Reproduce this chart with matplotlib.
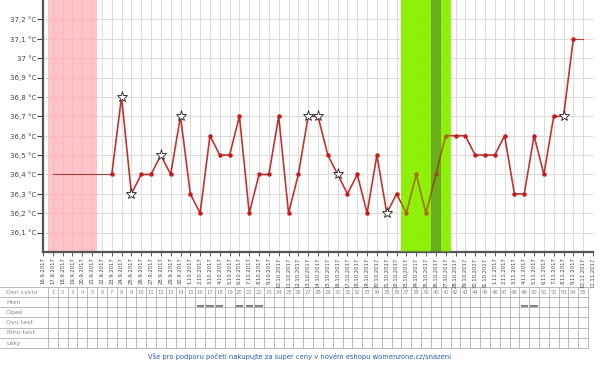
import matplotlib
matplotlib.use("Agg")
import matplotlib.pyplot as plt
import pandas as pd

plt.rcParams['font.family'] = ['DejaVu Sans']

# ---- data ----
dates = [f"{d.day}.{d.month}.{d.year}" for d in pd.date_range("2017-09-16", "2017-11-11")]
temp_days = list(range(7, 55))
temps = [36.4, 36.8, 36.3, 36.4, 36.4, 36.5, 36.4, 36.7, 36.3, 36.2,
         36.6, 36.5, 36.5, 36.7, 36.2, 36.4, 36.4, 36.7, 36.2, 36.4,
         36.7, 36.7, 36.5, 36.4, 36.3, 36.4, 36.2, 36.5, 36.2, 36.3,
         36.2, 36.4, 36.2, 36.4, 36.6, 36.6, 36.6, 36.5, 36.5, 36.5,
         36.6, 36.3, 36.3, 36.6, 36.4, 36.7, 36.7, 37.1]
star_days = [8, 9, 12, 14, 27, 28, 30, 35, 53]
lead_days = [1, 7]          # thin connecting line before first reading
lead_temps = [36.4, 36.4]
tail_days = [54, 55]        # thin connecting line after last reading
tail_temps = [37.1, 37.1]
period_days = [1, 5]
fertile_days = [37, 41]
ovulation_day = 40
ytick_vals = [36.1, 36.2, 36.3, 36.4, 36.5, 36.6, 36.7, 36.8, 36.9, 37.0, 37.1, 37.2]
cycle_days = list(range(1, 56))
row_labels = ["Den cyklu", "Hlen", "Čípek", "Ovu test", "Těhu test", "Léky"]
hlen_days = [16, 17, 18, 20, 21, 22, 49, 50]
footer = "Vše pro podporu početí nakupujte za super ceny v novém eshopu womenzone.cz/snazeni"

W, H = 600, 366
fig = plt.figure(figsize=(W / 100, H / 100), dpi=100)

# ---- table / background axes in pixel coordinates ----
axb = fig.add_axes([0, 0, 1, 1])
axb.set_xlim(0, W)
axb.set_ylim(H, 0)
axb.axis('off')

x0, x1 = 43.0, 593.0
ndays = len(dates) - 1
def px(d):
    return x0 + (x1 - x0) / ndays * d

t_top, row_h = 287.0, 10.15
n_rows = len(row_labels)
t_bot = t_top + n_rows * row_h
tcol = '#b0b0b0'
right_edge = px(cycle_days[-1] + 0.5)
for i in range(n_rows + 1):
    y = t_top + i * row_h
    axb.plot([0, right_edge], [y, y], color=tcol, lw=0.6)
for d in cycle_days + [cycle_days[-1] + 1]:
    xx = px(d - 0.5)
    axb.plot([xx, xx], [t_top, t_bot], color=tcol, lw=0.6)
for i, lab in enumerate(row_labels):
    axb.text(6, t_top + (i + 0.5) * row_h, lab, fontsize=4.5, color='#8a8a8a',
             va='center', ha='left')
for d in cycle_days:
    axb.text(px(d), t_top + 0.5 * row_h, str(d), fontsize=3.8, color='#8a8a8a',
             va='center', ha='center')
for d in hlen_days:
    yy = t_top + 1.85 * row_h
    axb.plot([px(d) - 3.6, px(d) + 3.6], [yy, yy], color='#777777', lw=1.3,
             solid_capstyle='butt')
axb.text(300, 357, footer, fontsize=4.9, color='#2a5db0', ha='center', va='center')

# ---- chart axes ----
ax = fig.add_axes([x0 / W, 1 - 252 / H, (x1 - x0) / W, 252 / H])
ax.set_xlim(0, ndays)
ax.set_ylim(36.0, 37.3)
ax.set_facecolor('none')

for d in range(ndays + 1):
    ax.axvline(d, color='#dcdcdc', lw=0.8, zorder=0)
for v in [36.1 + 0.1 * k for k in range(12)]:
    ax.axhline(v, color='#dcdcdc', lw=0.8, zorder=0)

ax.axvspan(period_days[0] - 0.5, period_days[1] + 0.5, color='#ffb0b8', alpha=0.75,
           lw=0, zorder=1)
ax.axvspan(fertile_days[0] - 0.5, fertile_days[1] + 0.5, color='#8cf000', alpha=0.95,
           lw=0, zorder=1)
ax.axvspan(ovulation_day - 0.5, ovulation_day + 0.5, color='#5ea020', alpha=0.8,
           lw=0, zorder=1)

line_col = '#b40000'
ax.plot(lead_days, lead_temps, color='#a04040', lw=0.8, zorder=2)
ax.plot(tail_days, tail_temps, color='#c04040', lw=0.8, zorder=2)
ax.plot(temp_days, temps, color=line_col, lw=1.2, alpha=0.8, zorder=3)
dot_days = [d for d in temp_days if d not in star_days]
dot_t = [t for d, t in zip(temp_days, temps) if d not in star_days]
ax.plot(dot_days, dot_t, 'o', color='#c81818', ms=3.2, mew=0, zorder=4)
st_t = [t for d, t in zip(temp_days, temps) if d in star_days]
ax.plot(star_days, st_t, '*', mfc='white', mec='#222222', mew=0.6, ms=8, zorder=5)

# translucent overlay tints the line inside the fertile window
ax.axvspan(fertile_days[0] - 0.5, ovulation_day - 0.5, color='#8cf000', alpha=0.35,
           lw=0, zorder=4.5)
ax.axvspan(ovulation_day - 0.5, ovulation_day + 0.5, color='#6aac22', alpha=0.35,
           lw=0, zorder=4.5)
ax.axvspan(ovulation_day + 0.5, fertile_days[1] + 0.5, color='#8cf000', alpha=0.35,
           lw=0, zorder=4.5)

ax.set_yticks(ytick_vals)
ax.set_yticklabels([(f"{v:.1f}".rstrip('0').rstrip('.')).replace('.', ',') + " °C"
                    for v in ytick_vals])
ax.set_xticks(range(ndays + 1))
ax.set_xticklabels(dates, rotation=90)
ax.tick_params(axis='y', labelsize=5, colors='#444444', length=4, width=0.8, pad=1)
ax.tick_params(axis='x', labelsize=3.8, colors='#444444', length=3, width=0.6, pad=1)
for s in ['top', 'right']:
    ax.spines[s].set_visible(False)
for s in ['left', 'bottom']:
    ax.spines[s].set_color('#555555')
    ax.spines[s].set_linewidth(1.6)

fig.savefig('out.png', dpi=100)
